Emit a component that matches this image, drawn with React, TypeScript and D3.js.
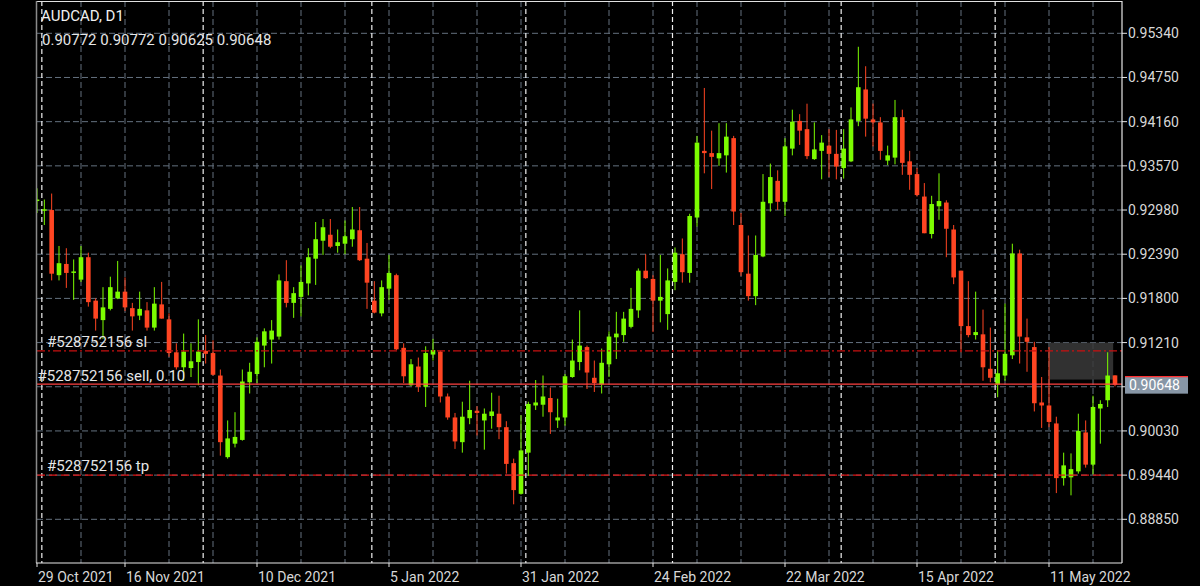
import React, { useEffect } from 'react';
import * as d3 from 'd3';

const W = 1200;
const H = 586;

const symbolTitle = 'AUDCAD, D1';
const lastBar = { open: 0.90772, high: 0.90772, low: 0.90625, close: 0.90648 };

const opens = [
  0.9310, 0.9297, 0.9298, 0.9211, 0.9226, 0.9214, 0.9205, 0.9235, 0.9177, 0.9151,
  0.9166, 0.9180, 0.9189, 0.9167, 0.9157, 0.9164, 0.9141, 0.9172, 0.9152, 0.9108,
  0.9088, 0.9087, 0.9095, 0.9110, 0.9107, 0.9077, 0.8968, 0.8986, 0.8991, 0.9068,
  0.9079, 0.9117, 0.9125, 0.9129, 0.9203, 0.9174, 0.9182, 0.9200, 0.9233, 0.9257,
  0.9265, 0.9250, 0.9253, 0.9259, 0.9271, 0.9233, 0.9177, 0.9160, 0.9193, 0.9211,
  0.9114, 0.9064, 0.9089, 0.9062, 0.9105, 0.9109, 0.9049, 0.9021, 0.8988, 0.9020,
  0.9030, 0.9017, 0.9023, 0.9026, 0.9008, 0.8960, 0.8919, 0.8974, 0.9037, 0.9038,
  0.9047, 0.9017, 0.9021, 0.9075, 0.9095, 0.9115, 0.9074, 0.9065, 0.9092, 0.9128,
  0.9131, 0.9142, 0.9164, 0.9217, 0.9206, 0.9177, 0.9159, 0.9202, 0.9239, 0.9214,
  0.9288, 0.9377, 0.9374, 0.9367, 0.9371, 0.9394, 0.9278, 0.9213, 0.9183, 0.9236,
  0.9307, 0.9337, 0.9309, 0.9380, 0.9417, 0.9406, 0.9366, 0.9377, 0.9384, 0.9373,
  0.9354, 0.9363, 0.9417, 0.9459, 0.9419, 0.9415, 0.9364, 0.9368, 0.9422, 0.9363,
  0.9346, 0.9316, 0.9266, 0.9303, 0.9308, 0.9272, 0.9217, 0.9143, 0.9131, 0.9132,
  0.9086, 0.9065, 0.9077, 0.9104, 0.9240, 0.9128, 0.9115, 0.9041, 0.9037, 0.9013,
  0.8940, 0.8941, 0.8949, 0.9001, 0.8958, 0.9033, 0.9044, 0.90772,
];
const highs = [
  0.9327, 0.9312, 0.9320, 0.9250, 0.9247, 0.9232, 0.9250, 0.9241, 0.9180, 0.9195,
  0.9209, 0.9230, 0.9208, 0.9174, 0.9189, 0.9175, 0.9195, 0.9202, 0.9160, 0.9120,
  0.9133, 0.9120, 0.9152, 0.9131, 0.9124, 0.9085, 0.9017, 0.9028, 0.9085, 0.9094,
  0.9128, 0.9140, 0.9151, 0.9212, 0.9231, 0.9195, 0.9224, 0.9247, 0.9282, 0.9286,
  0.9286, 0.9272, 0.9284, 0.9302, 0.9302, 0.9254, 0.9203, 0.9204, 0.9238, 0.9213,
  0.9120, 0.9099, 0.9101, 0.9116, 0.9126, 0.9110, 0.9053, 0.9027, 0.9042, 0.9070,
  0.9036, 0.9033, 0.9054, 0.9050, 0.9016, 0.8966, 0.9024, 0.9042, 0.9071, 0.9077,
  0.9061, 0.9046, 0.9079, 0.9125, 0.9164, 0.9117, 0.9097, 0.9113, 0.9136, 0.9162,
  0.9162, 0.9194, 0.9220, 0.9239, 0.9211, 0.9238, 0.9220, 0.9248, 0.9260, 0.9293,
  0.9397, 0.9461, 0.9404, 0.9414, 0.9414, 0.9397, 0.9294, 0.9264, 0.9264, 0.9346,
  0.9360, 0.9351, 0.9394, 0.9432, 0.9426, 0.9440, 0.9415, 0.9398, 0.9406, 0.9405,
  0.9406, 0.9435, 0.9516, 0.9490, 0.9440, 0.9422, 0.9384, 0.9445, 0.9432, 0.9377,
  0.9354, 0.9334, 0.9317, 0.9347, 0.9311, 0.9278, 0.9217, 0.9203, 0.9189, 0.9165,
  0.9141, 0.9111, 0.9173, 0.9253, 0.9245, 0.9153, 0.9122, 0.9075, 0.9115, 0.9022,
  0.8974, 0.8973, 0.9026, 0.9017, 0.9050, 0.9044, 0.9108, 0.90772,
];
const lows = [
  0.9294, 0.9278, 0.9204, 0.9204, 0.9194, 0.9178, 0.9202, 0.9169, 0.9137, 0.9126,
  0.9164, 0.9179, 0.9163, 0.9137, 0.9151, 0.9137, 0.9137, 0.9153, 0.9102, 0.9085,
  0.9070, 0.9075, 0.9064, 0.9093, 0.9077, 0.8970, 0.8966, 0.8981, 0.8990, 0.9053,
  0.9067, 0.9088, 0.9093, 0.9125, 0.9168, 0.9154, 0.9156, 0.9184, 0.9198, 0.9238,
  0.9247, 0.9241, 0.9239, 0.9249, 0.9230, 0.9166, 0.9160, 0.9156, 0.9178, 0.9111,
  0.9067, 0.9063, 0.9055, 0.9035, 0.9097, 0.9041, 0.9018, 0.8979, 0.8974, 0.9012,
  0.8997, 0.8978, 0.9006, 0.8992, 0.8946, 0.8905, 0.8918, 0.8943, 0.9031, 0.9022,
  0.8999, 0.9007, 0.9010, 0.9074, 0.9084, 0.9059, 0.9055, 0.9053, 0.9075, 0.9099,
  0.9122, 0.9140, 0.9154, 0.9206, 0.9135, 0.9148, 0.9138, 0.9191, 0.9201, 0.9201,
  0.9276, 0.9347, 0.9326, 0.9357, 0.9348, 0.9278, 0.9210, 0.9177, 0.9171, 0.9235,
  0.9296, 0.9298, 0.9290, 0.9371, 0.9385, 0.9366, 0.9365, 0.9339, 0.9342, 0.9339,
  0.9340, 0.9362, 0.9410, 0.9396, 0.9383, 0.9365, 0.9358, 0.9359, 0.9345, 0.9325,
  0.9316, 0.9267, 0.9260, 0.9285, 0.9235, 0.9199, 0.9108, 0.9128, 0.9125, 0.9070,
  0.9068, 0.9048, 0.9070, 0.9099, 0.9093, 0.9082, 0.9029, 0.9007, 0.9008, 0.8920,
  0.8930, 0.8917, 0.8946, 0.8954, 0.8945, 0.8986, 0.9035, 0.90625,
];
const closes = [
  0.9312, 0.9299, 0.9213, 0.9227, 0.9214, 0.9216, 0.9235, 0.9175, 0.9153, 0.9168,
  0.9195, 0.9189, 0.9168, 0.9156, 0.9166, 0.9141, 0.9173, 0.9153, 0.9107, 0.9088,
  0.9109, 0.9096, 0.9109, 0.9106, 0.9078, 0.8988, 0.8993, 0.8995, 0.9069, 0.9082,
  0.9122, 0.9136, 0.9137, 0.9204, 0.9174, 0.9187, 0.9202, 0.9235, 0.9259, 0.9275,
  0.9249, 0.9255, 0.9263, 0.9272, 0.9231, 0.9201, 0.9161, 0.9195, 0.9214, 0.9112,
  0.9076, 0.9092, 0.9062, 0.9107, 0.9111, 0.9049, 0.9021, 0.8989, 0.9022, 0.9031,
  0.9027, 0.9026, 0.9029, 0.9008, 0.8959, 0.8924, 0.8977, 0.9039, 0.9041, 0.9049,
  0.9028, 0.9021, 0.9076, 0.9097, 0.9117, 0.9081, 0.9067, 0.9094, 0.9129, 0.9133,
  0.9153, 0.9166, 0.9217, 0.9207, 0.9177, 0.9182, 0.9204, 0.9241, 0.9215, 0.9290,
  0.9388, 0.9374, 0.9369, 0.9374, 0.9396, 0.9296, 0.9215, 0.9183, 0.9238, 0.9309,
  0.9342, 0.9309, 0.9383, 0.9416, 0.9404, 0.9370, 0.9379, 0.9388, 0.9373, 0.9356,
  0.9380, 0.9419, 0.9462, 0.9420, 0.9415, 0.9377, 0.9371, 0.9422, 0.9361, 0.9345,
  0.9318, 0.9267, 0.9306, 0.9310, 0.9273, 0.9208, 0.9143, 0.9131, 0.9135, 0.9088,
  0.9074, 0.9080, 0.9106, 0.9240, 0.9129, 0.9122, 0.9040, 0.9037, 0.9015, 0.8940,
  0.8957, 0.8952, 0.9003, 0.8958, 0.9035, 0.9039, 0.9077, 0.90648,
];

const priceTicks = [0.9534, 0.9475, 0.9416, 0.9357, 0.9298, 0.9239, 0.918, 0.9121, 0.9062, 0.9003, 0.8944, 0.8885];
const dateTickBars = [0, 12, 30, 48, 66, 84, 102, 120, 138];
const dateTickLabels = ['29 Oct 2021', '16 Nov 2021', '10 Dec 2021', '5 Jan 2022', '31 Jan 2022', '24 Feb 2022', '22 Mar 2022', '15 Apr 2022', '11 May 2022'];
const monthStartBars = [1, 23, 46, 67, 87, 110, 131];
const gridEveryBars = 6;

const orderId = '#528752156';
const slPrice = 0.911;
const entryPrice = 0.90656;
const tpPrice = 0.8944;
const lotLabel = 'sell, 0.10';
const zoneTop = 0.9121;
const zoneBottom = 0.90716;
const zoneStartBar = 138;
const zoneEndBar = 146.75;

const PL = 37, PR = 1122, PT = 1, PB = 563;

export default function App() {
  useEffect(() => {
    document.body.style.margin = '0';
    document.body.style.background = '#000';
  }, []);

  const n = closes.length;
  const x = d3.scaleLinear().domain([0, n - 1]).range([37, 37 + ((n - 1) * 22) / 3]);
  const y = d3.scaleLinear().domain([0.8885, 0.9534]).range([519.3, 33.3]);
  const fmt = d3.format('.5f');

  const gridColor = '#64717f';
  const bull = '#7cfc00';
  const bear = '#ff4522';
  const font = 'Roboto, "Noto Sans", sans-serif';

  const gridBars: number[] = [];
  for (let i = gridEveryBars; i < n; i += gridEveryBars) gridBars.push(i);

  const bw = 4.6;
  const lastY = y(lastBar.close);

  return (
    <svg width={W} height={H} style={{ position: 'absolute', left: 0, top: 0, background: '#000', display: 'block' }}>
      <defs>
        <clipPath id="plot">
          <rect x={PL} y={PT} width={PR - PL} height={PB - PT} />
        </clipPath>
      </defs>
      <rect x={0} y={0} width={W} height={H} fill="#000" />
      {/* horizontal grid */}
      {priceTicks.map((p, i) => (
        <line key={'hg' + i} x1={PL} x2={PR} y1={y(p)} y2={y(p)} stroke={gridColor} strokeWidth={1} strokeDasharray="6,3" />
      ))}
      {/* vertical grid */}
      {gridBars.map((b) => (
        <line key={'vg' + b} x1={x(b)} x2={x(b)} y1={PT} y2={PB} stroke={gridColor} strokeWidth={1} strokeDasharray="6,3" />
      ))}
      {/* month separators */}
      {monthStartBars.map((b) => (
        <line key={'ms' + b} x1={x(b) - 2.5} x2={x(b) - 2.5} y1={PT} y2={PB} stroke="#f0f0f0" strokeWidth={1.2} strokeDasharray="5,3" />
      ))}
      {/* zone */}
      <rect x={x(zoneStartBar)} y={y(zoneTop)} width={x(zoneEndBar) - x(zoneStartBar)} height={y(zoneBottom) - y(zoneTop)} fill="#3a3a3a" fillOpacity={0.85} />
      {/* candles */}
      <g clipPath="url(#plot)">
        {closes.map((c, i) => {
          const o = opens[i];
          const up = c >= o;
          const col = up ? bull : bear;
          const top = y(Math.max(o, c));
          const bot = y(Math.min(o, c));
          return (
            <g key={'c' + i}>
              <line x1={x(i)} x2={x(i)} y1={y(highs[i])} y2={y(lows[i])} stroke={col} strokeWidth={1} />
              <rect x={x(i) - bw / 2} y={top} width={bw} height={Math.max(1.5, bot - top)} fill={col} />
            </g>
          );
        })}
      </g>
      {/* order lines */}
      <line x1={PL} x2={PR} y1={y(slPrice)} y2={y(slPrice)} stroke="#c81010" strokeWidth={1.2} strokeDasharray="8,3,2,3" />
      <line x1={PL} x2={PR} y1={y(tpPrice)} y2={y(tpPrice)} stroke="#e01515" strokeWidth={1.2} strokeDasharray="8,4" />
      <line x1={PL} x2={PR} y1={y(entryPrice)} y2={y(entryPrice)} stroke="#ff4040" strokeWidth={1.3} />
      <text x={47} y={y(slPrice) - 4} fill="#e6e6e6" fontSize={15} fontFamily={font}>{orderId + ' sl'}</text>
      <text x={37.5} y={y(entryPrice) - 3} fill="#e6e6e6" fontSize={15} fontFamily={font}>{orderId + ' ' + lotLabel}</text>
      <text x={47} y={y(tpPrice) - 4} fill="#e6e6e6" fontSize={15} fontFamily={font}>{orderId + ' tp'}</text>
      {/* borders */}
      <line x1={PL} x2={PR} y1={1.5} y2={1.5} stroke="#e0e0e0" strokeWidth={1} />
      <line x1={PL - 0.5} x2={PL - 0.5} y1={PT} y2={PB} stroke="#8a8a8a" strokeWidth={1.5} />
      <line x1={PR} x2={PR} y1={PT} y2={PB} stroke="#e8e8e8" strokeWidth={1.2} />
      <line x1={PL - 1} x2={PR} y1={PB} y2={PB} stroke="#e8e8e8" strokeWidth={1.2} />
      {/* price axis */}
      {priceTicks.map((p, i) => (
        <g key={'pt' + i}>
          <line x1={PR} x2={PR + 5} y1={y(p)} y2={y(p)} stroke="#e8e8e8" strokeWidth={1} />
          <text x={PR + 6} y={y(p) + 5} fill="#d8d8d8" fontSize={14} fontFamily={font}>{fmt(p)}</text>
        </g>
      ))}
      {/* date axis */}
      {dateTickBars.map((b, i) => (
        <g key={'dt' + i}>
          <line x1={x(b)} x2={x(b)} y1={PB} y2={PB + 4} stroke="#e8e8e8" strokeWidth={1} />
          <text x={x(b) + 1} y={581.5} fill="#d8d8d8" fontSize={14} fontFamily={font}>{dateTickLabels[i]}</text>
        </g>
      ))}
      {/* current price box */}
      <rect x={1125} y={lastY - 8} width={63} height={17} fill="#8796a6" />
      <line x1={1125} x2={1188} y1={lastY - 8} y2={lastY - 8} stroke="#ff3030" strokeWidth={1.2} />
      <text x={1129} y={lastY + 5.5} fill="#ffffff" fontSize={14} fontFamily={font}>{fmt(lastBar.close)}</text>
      {/* header */}
      <text x={41} y={20.5} fill="#f0f0f0" fontSize={15} fontFamily={font}>{symbolTitle}</text>
      <text x={42} y={45} fill="#e6e6e6" fontSize={15} fontFamily={font}>
        {[lastBar.open, lastBar.high, lastBar.low, lastBar.close].map((v) => fmt(v)).join(' ')}
      </text>
    </svg>
  );
}
